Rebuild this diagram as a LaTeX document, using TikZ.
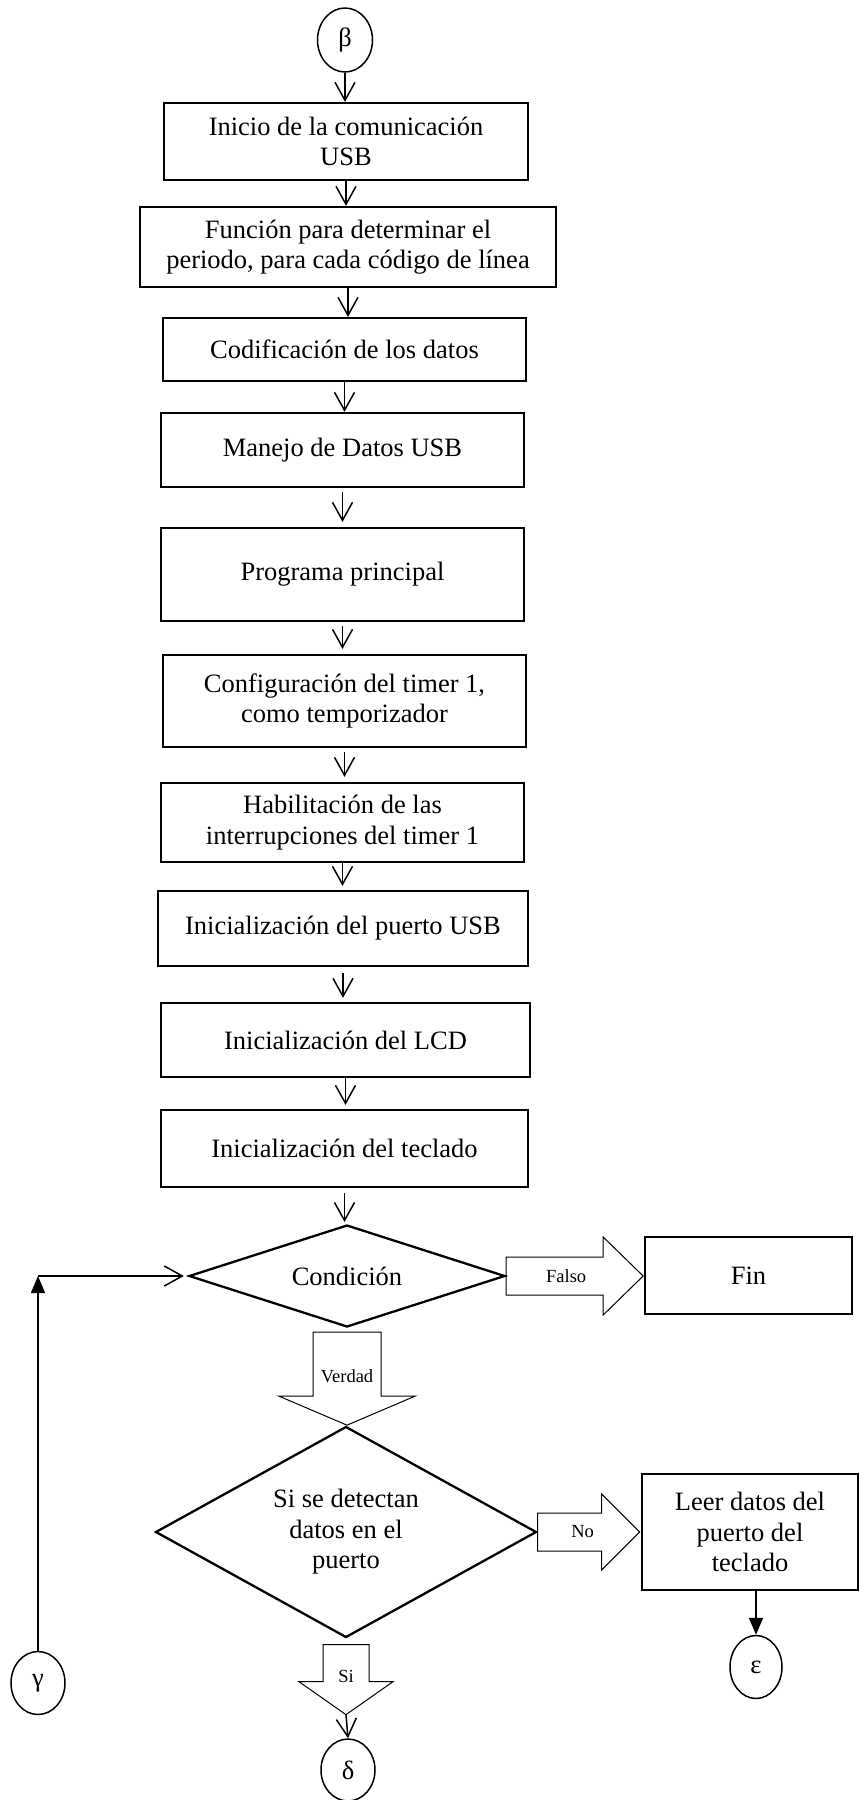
\documentclass[tikz,border=0pt]{standalone}
\usepackage{fontspec}
\setmainfont{Liberation Serif}
\usepackage{tikz}
\usetikzlibrary{arrows.meta,shapes.geometric}

\begin{document}
\begin{tikzpicture}[x=1pt,y=1pt,
  font=\fontsize{26.5}{30.5}\selectfont,
  caja/.style={draw, line width=2.3pt, rectangle, align=center, inner sep=0pt},
  rombo/.style={draw, line width=2.3pt, diamond, align=center, inner sep=0pt},
  circulo/.style={draw, line width=1.5pt, ellipse, inner sep=0pt},
  flecha/.style={line width=1.5pt, -{Straight Barb[length=18pt,width=20pt]}},
  flechallena/.style={line width=1.5pt, -{Triangle[length=17pt,width=14pt]}},
  bloque/.style={draw, line width=1pt, line join=miter},
  etiq/.style={font=\fontsize{18.5}{20}\selectfont, inner sep=0pt}]
  \useasboundingbox (0,0) rectangle (860,-1800);

  % Conector de entrada
  \node[circulo, minimum width=55pt, minimum height=64pt] (beta) at (345,-40) {β};

  % Bloques del programa
  \node[caja, minimum width=364pt, minimum height=77pt] (b1) at (346,-141.5)
    {Inicio de la comunicación\\USB};
  \node[caja, minimum width=416pt, minimum height=80pt] (b2) at (348,-247)
    {Función para determinar el\\periodo, para cada código de línea};
  \node[caja, minimum width=363pt, minimum height=63pt] (b3) at (344.5,-349.5)
    {Codificación de los datos};
  \node[caja, minimum width=363pt, minimum height=74pt] (b4) at (342.5,-450)
    {Manejo de Datos USB};
  \node[caja, minimum width=363pt, minimum height=93pt] (b5) at (342.5,-574.5)
    {Programa principal};
  \node[caja, minimum width=363pt, minimum height=92pt] (b6) at (344.5,-701)
    {Configuración del timer 1,\\como temporizador};
  \node[caja, minimum width=363pt, minimum height=79pt] (b7) at (342.5,-822.5)
    {Habilitación de las\\interrupciones del timer 1};
  \node[caja, minimum width=370pt, minimum height=75pt] (b8) at (343,-928.5)
    {Inicialización del puerto USB};
  \node[caja, minimum width=369pt, minimum height=74pt] (b9) at (345.5,-1040)
    {Inicialización del LCD};
  \node[caja, minimum width=367pt, minimum height=77pt] (b10) at (344.5,-1148.5)
    {Inicialización del teclado};

  % Flechas entre bloques
  \draw[flecha] (beta.south) -- (beta.south |- b1.north);
  \draw[flecha] (b1.south) -- (b1.south |- b2.north);
  \draw[flecha] (b2.south) -- (b2.south |- b3.north);
  \draw[flecha] (b3.south) -- (b3.south |- b4.north);
  \draw[flecha] ([yshift=-4pt]b4.south) -- ([yshift=5pt]b4.south |- b5.north);
  \draw[flecha] ([yshift=-4pt]b5.south) -- ([yshift=5pt]b5.south |- b6.north);
  \draw[flecha] ([yshift=-4pt]b6.south) -- ([yshift=5pt]b6.south |- b7.north);
  \draw[flecha] (b7.south) -- ([yshift=4pt]b7.south |- b8.north);
  \draw[flecha] ([yshift=-6pt]b8.south) -- ([yshift=4pt]b8.south |- b9.north);
  \draw[flecha] (b9.south) -- ([yshift=4pt]b9.south |- b10.north);
  \draw[flecha] ([yshift=-5pt]b10.south) -- ([yshift=4pt]b10.south |- 0,-1226);

  % Condición del ciclo
  \node[rombo, aspect=3.1, minimum width=316pt, minimum height=102pt] (cond) at (347,-1276) {Condición};
  \node[caja, minimum width=207pt, minimum height=77pt] (fin) at (748.5,-1275.5) {Fin};

  % Flecha Falso
  \draw[bloque] ([yshift=19pt]cond.east) -- ++(97,0) -- ++(0,20) -- ++(40,-39)
    -- ++(-40,-39) -- ++(0,20) -- ++(-97,0) -- cycle;
  \node[etiq] (lfalso) at ([xshift=60pt]cond.east) {Falso};

  % Flecha Verdad
  \draw[bloque] ([xshift=-34pt,yshift=-4pt]cond.south) -- ++(0,-64) -- ++(-34,0)
    -- ++(68,-29) -- ++(68,29) -- ++(-34,0) -- ++(0,64) -- cycle;
  \node[etiq] (lverdad) at ([yshift=-48pt]cond.south) {Verdad};

  % Detección de datos
  \node[rombo, aspect=1.8, minimum width=381pt, minimum height=211pt] (det) at (346,-1532)
    {Si se detectan\\datos en el\\puerto};
  \node[caja, minimum width=216pt, minimum height=116pt] (leer) at (750,-1532)
    {Leer datos del\\puerto del\\teclado};

  % Flecha No
  \draw[bloque] ([yshift=19pt]det.east) -- ++(64,0) -- ++(0,19) -- ++(38,-38)
    -- ++(-38,-38) -- ++(0,19) -- ++(-64,0) -- cycle;
  \node[etiq] (lno) at ([xshift=45pt]det.east) {No};

  % Flecha Si
  \draw[bloque] ([xshift=-23pt,yshift=-6pt]det.south) -- ++(0,-37) -- ++(-24,0)
    -- ++(47,-33) coordinate (puntasi) -- ++(47,33) -- ++(-24,0) -- ++(0,37) -- cycle;
  \node[etiq] (lsi) at ([yshift=-38pt]det.south) {Si};

  % Conectores de salida
  \node[circulo, minimum width=54pt, minimum height=62pt] (delta) at (348,-1770) {δ};
  \node[circulo, minimum width=52pt, minimum height=63pt] (eps) at (756,-1667) {ε};
  \node[circulo, minimum width=54pt, minimum height=63pt] (gam) at (38,-1683) {γ};

  \draw[flecha] (puntasi) -- (delta.north);
  \draw[flechallena] (eps.north |- leer.south) -- (eps.north);

  % Regreso a la condición
  \coordinate (esq) at (gam.north |- cond.west);
  \draw[flechallena] (gam.north) -- (esq);
  \draw[flecha] (esq) -- ([xshift=-4pt]cond.west);
\end{tikzpicture}
\end{document}
